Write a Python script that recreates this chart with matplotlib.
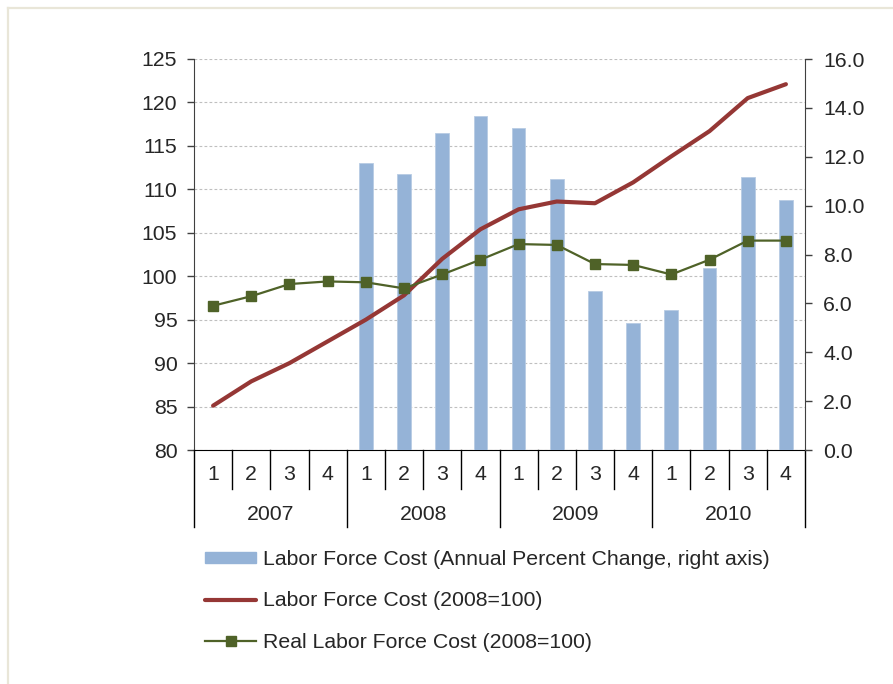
import matplotlib
matplotlib.use("Agg")
import matplotlib.pyplot as plt
from matplotlib.lines import Line2D
from matplotlib.patches import Patch
import matplotlib.transforms as mtransforms

plt.rcParams['font.family'] = ['Liberation Sans', 'DejaVu Sans']

years = ["2007", "2008", "2009", "2010"]
quarters = ["1", "2", "3", "4"]

# Annual percent change (right axis); None = no bar
pct_change = [None, None, None, None,
              11.76, 11.28, 12.96, 13.65,
              13.18, 11.08, 6.52, 5.20,
              5.73, 7.46, 11.18, 10.23]
labor_cost = [85.1, 87.9, 90.0, 92.5,
              95.0, 97.8, 102.0, 105.4,
              107.7, 108.6, 108.4, 110.8,
              113.8, 116.7, 120.5, 122.1]
real_labor_cost = [96.6, 97.7, 99.1, 99.4,
                   99.3, 98.6, 100.2, 101.9,
                   103.7, 103.6, 101.4, 101.3,
                   100.2, 101.9, 104.1, 104.1]

left_ticks = [80, 85, 90, 95, 100, 105, 110, 115, 120, 125]
right_ticks = [0, 2, 4, 6, 8, 10, 12, 14, 16]

labels = ["Labor Force Cost (Annual Percent Change, right axis)",
          "Labor Force Cost (2008=100)",
          "Real Labor Force Cost (2008=100)"]

BAR = "#95b3d7"
RED = "#953735"
GREEN = "#4f6228"
TXT = "#262626"
FS = 15.3

W, H = 893, 684
fig = plt.figure(figsize=(W / 100, H / 100), dpi=100)
fig.patch.set_facecolor("white")

x0, x1, y0, y1 = 194, 805, 450, 59
ax = fig.add_axes([x0 / W, (H - y0) / H, (x1 - x0) / W, (y0 - y1) / H])
n = len(labor_cost)
xs = list(range(n))

# Left axis with grid
ax.set_ylim(left_ticks[0], left_ticks[-1])
ax.set_xlim(-0.5, n - 0.5)
ax.set_yticks(left_ticks)
ax.set_yticklabels([str(t) for t in left_ticks])
ax.yaxis.grid(True, color="#bfbfbf", linestyle=(0, (2.5, 2)), linewidth=0.8)
ax.set_axisbelow(True)
ax.tick_params(axis="y", direction="out", length=5, width=1, pad=7,
               labelsize=FS, labelcolor=TXT, color="#404040")
ax.set_xticks([])
for s in ["top", "right"]:
    ax.spines[s].set_visible(False)
ax.spines["left"].set_color("#404040")
ax.spines["bottom"].set_color("#000000")

# Bars on right axis
axb = ax.twinx()
bx = [x for x, v in zip(xs, pct_change) if v is not None]
bv = [v for v in pct_change if v is not None]
axb.bar(bx, bv, width=0.36, color=BAR, edgecolor="#b8cce4", linewidth=0.6)
axb.set_ylim(right_ticks[0], right_ticks[-1])
axb.set_yticks(right_ticks)
axb.set_yticklabels([f"{t:.1f}" for t in right_ticks])
axb.tick_params(axis="y", direction="out", length=5, width=1, pad=8,
                labelsize=FS, labelcolor=TXT, color="#404040")
for s in ["top", "left", "bottom"]:
    axb.spines[s].set_visible(False)
axb.spines["right"].set_color("#404040")

# Lines on an overlay with left scale
axl = ax.twinx()
axl.set_ylim(left_ticks[0], left_ticks[-1])
axl.set_axis_off()
axl.plot(xs, labor_cost, color=RED, linewidth=3.0, solid_capstyle="round",
         solid_joinstyle="round")
axl.plot(xs, real_labor_cost, color=GREEN, linewidth=1.6, marker="s",
         markersize=7, markerfacecolor=GREEN, markeredgecolor=GREEN)

# Category axis: quarter & year labels with separators
trans = mtransforms.blended_transform_factory(ax.transData, ax.transAxes)
ax_h = y0 - y1
q_depth = 39 / ax_h
y_depth = 77 / ax_h
for i in range(n + 1):
    xp = i - 0.5
    d = y_depth if i % 4 == 0 else q_depth
    ax.add_line(Line2D([xp, xp], [0, -d], transform=trans, color="#000000",
                       linewidth=1.0, clip_on=False))
for i in range(n):
    ax.text(i, -25 / ax_h, quarters[i % 4], transform=trans, ha="center",
            va="center", fontsize=FS, color=TXT)
for j, yr in enumerate(years):
    ax.text(j * 4 + 1.5, -64 / ax_h, yr, transform=trans, ha="center",
            va="center", fontsize=FS, color=TXT)

# Legend
handles = [Patch(facecolor=BAR, edgecolor=BAR),
           Line2D([], [], color=RED, linewidth=3.0, solid_capstyle="round"),
           Line2D([], [], color=GREEN, linewidth=1.6, marker="s", markersize=7,
                  markerfacecolor=GREEN, markeredgecolor=GREEN)]
leg = fig.legend(handles, labels, loc="upper left",
                 bbox_to_anchor=(205 / W, 1 - 550 / H), frameon=False,
                 fontsize=FS, handlelength=2.4, handletextpad=0.33,
                 labelspacing=1.05, borderpad=0, borderaxespad=0,
                 handleheight=0.45)
for t in leg.get_texts():
    t.set_color(TXT)

# Border lines top & left
bc = "#e9e6d8"
fig.add_artist(Line2D([8 / W, 1], [1 - 8 / H, 1 - 8 / H], transform=fig.transFigure,
                      color=bc, linewidth=1.6))
fig.add_artist(Line2D([8 / W, 8 / W], [0, 1 - 8 / H], transform=fig.transFigure,
                      color=bc, linewidth=1.6))

fig.savefig("out.png", dpi=100, facecolor="white")
